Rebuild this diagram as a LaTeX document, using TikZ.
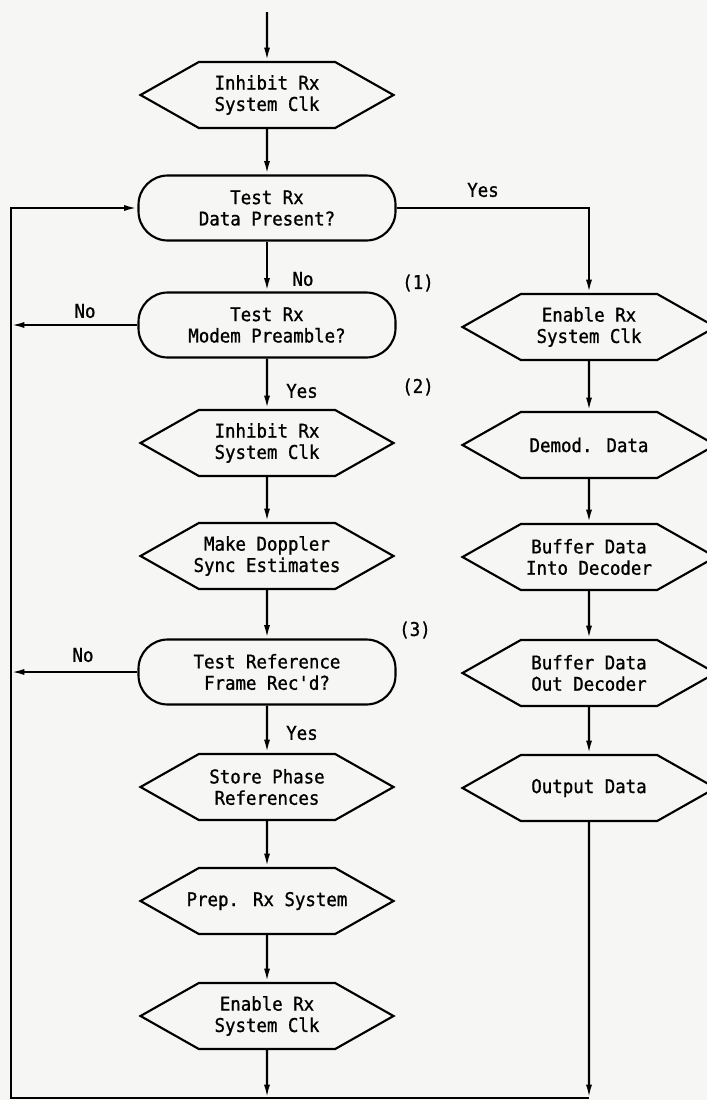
\documentclass[tikz,border=0pt]{standalone}
\usepackage{fontspec}
\newfontfamily\chartfont[FakeStretch=0.92,FakeBold=1]{DejaVu Sans Mono}
\usetikzlibrary{arrows.meta}
\usetikzlibrary{shapes.symbols}

\begin{document}
\begin{tikzpicture}[x=0.75pt,y=0.75pt,yscale=-1,xscale=1,
  every node/.style={font=\chartfont\fontsize{14.2}{16}\selectfont},
  proc/.style={draw, line width=1.6pt, signal, signal to=west and east, signal pointer angle=59, minimum width=189.75pt, minimum height=49.5pt, align=center, inner ysep=0pt, inner xsep=-40pt},
  test/.style={draw, line width=1.6pt, rectangle, rounded corners=22pt, minimum width=192.75pt, minimum height=48.75pt, align=center, inner sep=0pt},
  flow/.style={line width=1.6pt, -{Latex[length=10pt,width=4.5pt]}}]
%paper
\fill [color={rgb, 255:red, 246; green, 246; blue, 244 }] (0,0) rectangle (707,1100);
\useasboundingbox (0,0) rectangle (707,1100);

%Left column
\coordinate (start) at (267,12);
\node [proc] (inhA) at (267,95) {Inhibit Rx\\System Clk};
\node [test] (tData) at (267,208) {Test Rx\\Data Present?};
\node [test] (tPre) at (267,325) {Test Rx\\Modem Preamble?};
\node [proc] (inhB) at (267,443) {Inhibit Rx\\System Clk};
\node [proc] (doppler) at (267,556) {Make Doppler\\Sync Estimates};
\node [test] (tRef) at (267,672) {Test Reference\\Frame Rec'd?};
\node [proc] (store) at (267,787) {Store Phase\\References};
\node [proc] (prep) at (267,901) {Prep. Rx System};
\node [proc] (enaB) at (267,1016) {Enable Rx\\System Clk};

%Right column
\node [proc] (enaA) at (589,327) {Enable Rx\\System Clk};
\node [proc] (demod) at (589,445) {Demod. Data};
\node [proc] (bufIn) at (589,557) {Buffer Data\\Into Decoder};
\node [proc] (bufOut) at (589,673) {Buffer Data\\Out Decoder};
\node [proc] (outp) at (589,788) {Output Data};

%Return path
\coordinate (lbot) at (267,1098);
\coordinate (rbot) at (589,1098);
\coordinate (lcorner) at (11,1098);

\draw [flow] (start) -- (inhA);
\draw [flow] (inhA) -- (tData);
\draw [flow] (tData) -- (tPre);
\draw [flow] (tPre) -- (inhB);
\draw [flow] (inhB) -- (doppler);
\draw [flow] (doppler) -- (tRef);
\draw [flow] (tRef) -- (store);
\draw [flow] (store) -- (prep);
\draw [flow] (prep) -- (enaB);
\draw [flow] (enaB) -- (lbot);

\draw [flow] (tData.east) -| (enaA.north);
\draw [flow] (enaA) -- (demod);
\draw [flow] (demod) -- (bufIn);
\draw [flow] (bufIn) -- (bufOut);
\draw [flow] (bufOut) -- (outp);
\draw [flow] (outp) -- (rbot);

\draw [flow] (rbot) -- (lcorner) |- (tData.west);
\draw [flow] (tPre.west) -- (tPre.west -| lcorner);
\draw [flow] (tRef.west) -- (tRef.west -| lcorner);

% Text Node
\node (yesA) at (483,190) {Yes};
\node (noA) at (303,279) {No};
\node (noB) at (85,311) {No};
\node (yesB) at (302,391) {Yes};
\node (noC) at (83,655) {No};
\node (yesC) at (302,733) {Yes};
\node (mkA) at (418,283) {(1)};
\node (mkB) at (418,387) {(2)};
\node (mkC) at (415,630) {(3)};

\end{tikzpicture}
\end{document}
